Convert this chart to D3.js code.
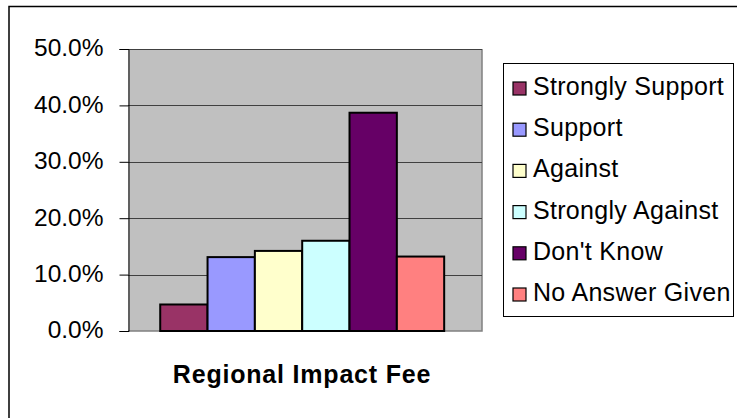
<!DOCTYPE html>
<html>
<head>
<meta charset="utf-8">
<script src="https://cdn.jsdelivr.net/npm/d3@7"></script>
<style>
  body { margin: 0; background: #fff; }
  svg { display: block; font-family: Arial, "Liberation Sans", sans-serif; }
</style>
</head>
<body>
<svg id="chart" width="737" height="418"></svg>
<script>
// answers to the regional impact fee question
var categories = ["Strongly Support", "Support", "Against", "Strongly Against", "Don't Know", "No Answer Given"];
var values = [0.047, 0.131, 0.142, 0.160, 0.387, 0.132];
var colors = ["#993366", "#9999FF", "#FFFFCC", "#CCFFFF", "#660066", "#FF8080"];
var yTicks = [0, 0.1, 0.2, 0.3, 0.4, 0.5];
var groupLabel = "Regional Impact Fee";

var svg = d3.select("#chart");

var plot = {left: 128, top: 49, right: 482, bottom: 331};

// outer chart frame (runs off the right and bottom edge)
svg.append("rect")
    .attr("x", 9).attr("y", 6.5)
    .attr("width", 740).attr("height", 420)
    .attr("fill", "#fff")
    .attr("stroke", "#000")
    .attr("stroke-width", 1.5);

var y = d3.scaleLinear()
    .domain([0, 0.5])
    .range([plot.bottom, plot.top]);

var x = d3.scaleBand()
    .domain(categories)
    .range([plot.left, plot.right])
    .paddingInner(0)
    .paddingOuter(0.74)
    .align(0.46);

// plot background
svg.append("rect")
    .attr("x", plot.left).attr("y", plot.top)
    .attr("width", plot.right - plot.left)
    .attr("height", plot.bottom - plot.top)
    .attr("fill", "#C0C0C0")
    .attr("stroke", "none");

// right / bottom shadow edge of the plot area
svg.append("path")
    .attr("d", "M" + plot.right + "," + plot.top + "V" + plot.bottom + "H" + plot.left)
    .attr("fill", "none")
    .attr("stroke", "#808080")
    .attr("stroke-width", 1.5);

// gridlines
svg.append("g")
    .selectAll("line")
    .data(yTicks.filter(function(d) { return d > 0; }))
    .join("line")
    .attr("x1", plot.left).attr("x2", plot.right)
    .attr("y1", function(d) { return Math.round(y(d)) + 0.5; })
    .attr("y2", function(d) { return Math.round(y(d)) + 0.5; })
    .attr("stroke", "#404040")
    .attr("stroke-width", 1);

// bars
svg.append("g")
    .selectAll("rect")
    .data(values)
    .join("rect")
    .attr("x", function(d, i) { return x(categories[i]); })
    .attr("y", function(d) { return y(d); })
    .attr("width", x.bandwidth())
    .attr("height", function(d) { return y(0) - y(d); })
    .attr("fill", function(d, i) { return colors[i]; })
    .attr("stroke", "#000")
    .attr("stroke-width", 2);

// y axis
var yAxis = d3.axisLeft(y)
    .tickValues(yTicks)
    .tickFormat(d3.format(".1%"))
    .tickSize(9)
    .tickPadding(16);

var gy = svg.append("g")
    .attr("transform", "translate(" + (plot.left + 0.5) + ",0)")
    .call(yAxis);
gy.select(".domain").attr("stroke", "#000").attr("stroke-width", 1);
gy.selectAll(".tick line").attr("stroke", "#000");
gy.selectAll(".tick text")
    .attr("font-size", 24.5)
    .attr("font-family", "Arial, 'Liberation Sans', sans-serif")
    .attr("fill", "#000")
    .attr("dy", "0.28em");

// category label under the bars
svg.append("text")
    .attr("x", (plot.left + plot.right) / 2 - 3)
    .attr("y", 383)
    .attr("text-anchor", "middle")
    .attr("font-size", 25)
    .attr("font-weight", "bold")
    .attr("letter-spacing", 0.8)
    .text(groupLabel);

// legend
var legend = svg.append("g");
legend.append("rect")
    .attr("x", 503.5).attr("y", 63.5)
    .attr("width", 230).attr("height", 253)
    .attr("fill", "#fff")
    .attr("stroke", "#000")
    .attr("stroke-width", 1);

var rowY = d3.scalePoint()
    .domain(categories)
    .range([95, 301]);

var rows = legend.selectAll("g.row")
    .data(categories)
    .join("g")
    .attr("class", "row")
    .attr("transform", function(d) { return "translate(0," + rowY(d) + ")"; });

rows.append("rect")
    .attr("x", 513).attr("y", -13)
    .attr("width", 13).attr("height", 13)
    .attr("fill", function(d, i) { return colors[i]; })
    .attr("stroke", "#000")
    .attr("stroke-width", 1.2);

rows.append("text")
    .attr("x", 533)
    .attr("y", 0)
    .attr("font-size", 25)
    .attr("letter-spacing", 0.3)
    .attr("fill", "#000")
    .text(function(d) { return d; });
</script>
</body>
</html>
